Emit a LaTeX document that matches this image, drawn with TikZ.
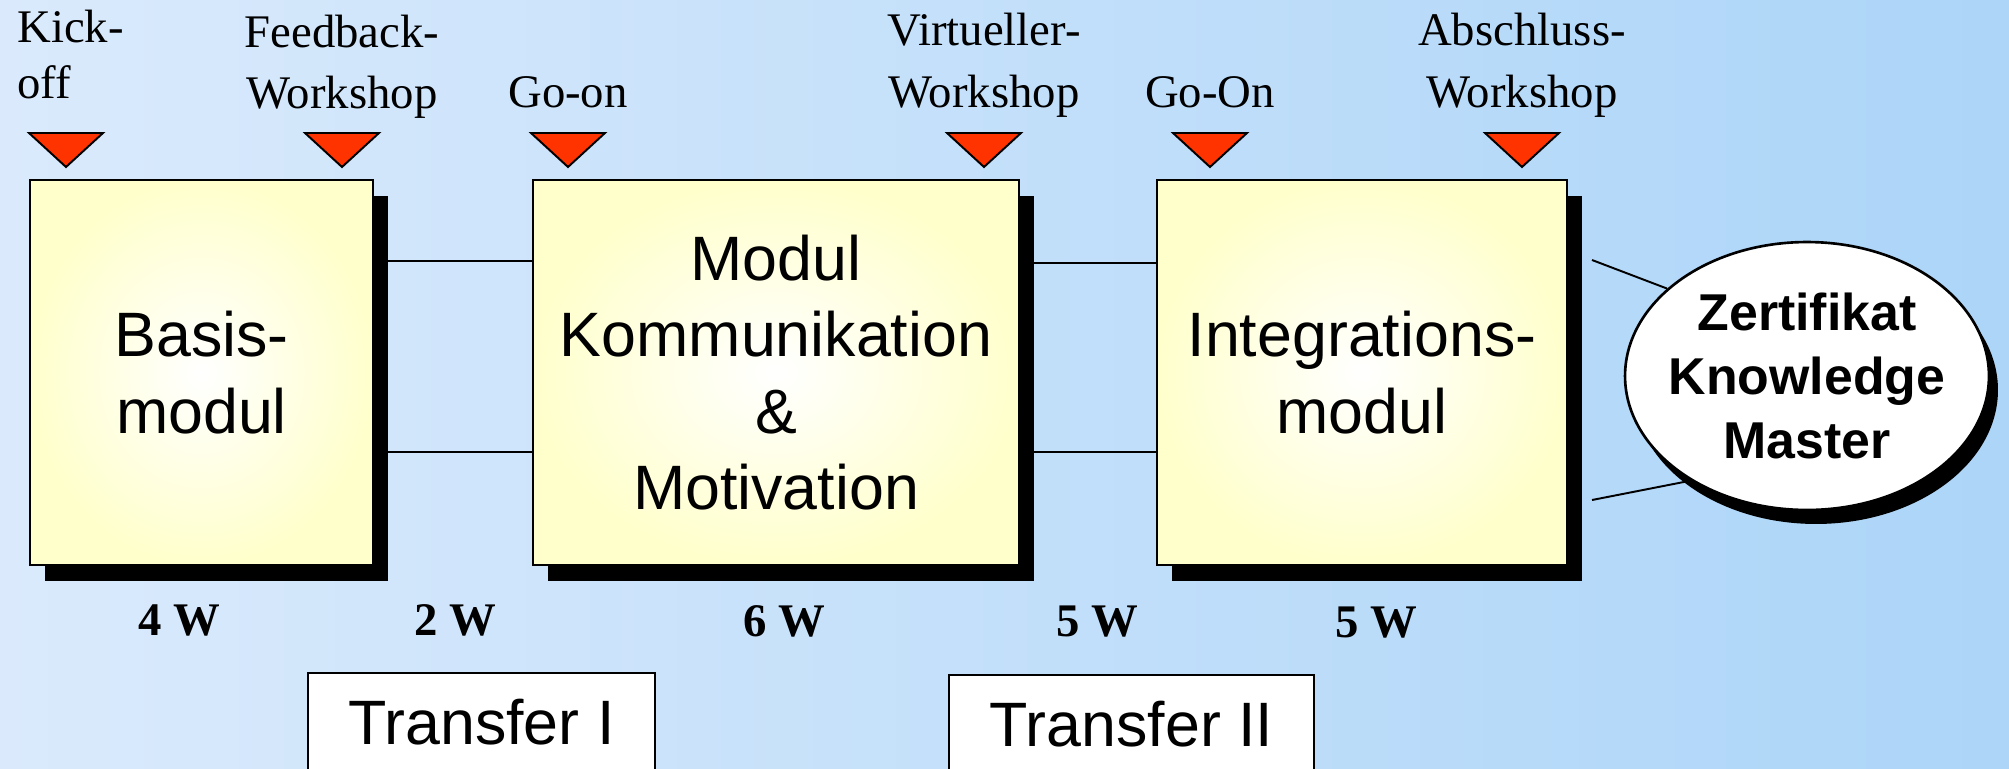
\documentclass[tikz,border=0pt]{standalone}
\usepackage{fontspec}
\setmainfont{Liberation Serif}
\newfontfamily\arialfont{Liberation Sans}
\usetikzlibrary{shapes.geometric}
\definecolor{bgL}{RGB}{218,234,252}
\definecolor{bgR}{RGB}{172,213,248}
\definecolor{boxY}{RGB}{255,255,204}
\definecolor{triR}{RGB}{255,51,0}
\tikzset{
  x=0.02cm, y=-0.02cm,
  modbox/.style={draw=black, line width=1.1pt, inner color=white, outer color=boxY,
    align=center, font=\arialfont\fontsize{35.7}{43.4}\selectfont,
    minimum height=7.7cm, inner sep=0pt},
  shbox/.style={fill=black, minimum height=7.7cm, inner sep=0pt},
  conn/.style={line width=1.1pt},
  tri/.style={fill=triR, draw=black, line width=1.1pt, line join=miter},
  evlabel/.style={inner sep=0pt, align=center},
  wk/.style={font=\bfseries\fontsize{26.6}{32}\selectfont, inner sep=0pt, anchor=base},
  trbox/.style={draw=black, fill=white, line width=1.1pt,
    font=\arialfont\fontsize{35.7}{43}\selectfont, anchor=north,
    minimum height=1.98cm, inner sep=0pt},
  certell/.style={ellipse, draw=black, fill=white, line width=1.5pt,
    minimum width=7.28cm, minimum height=5.36cm, inner sep=0pt, align=center,
    font=\arialfont\bfseries\fontsize{29.5}{36.6}\selectfont},
  certsh/.style={ellipse, fill=black, minimum width=7.28cm, minimum height=5.36cm, inner sep=0pt},
}
\newcommand{\zl}[1]{\makebox[0pt]{#1}}
\begin{document}
\begin{tikzpicture}
\clip (0,0) rectangle (2009,768);
\shade[left color=bgL, right color=bgR] (0,0) rectangle (2009,768);

% shadows
\node[shbox, minimum width=6.86cm] (bsh) at (216.5,388.5) {};
\node[shbox, minimum width=9.72cm] (msh) at (791,388.5) {};
\node[shbox, minimum width=8.2cm] (ish) at (1377,388.5) {};
\node[certsh] (esh) at (1816,390) {};

% helper levels
\coordinate (ya) at (0,261);
\coordinate (yb) at (0,452);
\coordinate (yc) at (0,263);
\coordinate (yd) at (0,452);
\coordinate (c1) at (1592,260);
\coordinate (c2) at (1592,500);

% boxes
\node[modbox, minimum width=6.86cm] (basis) at (201.5,372.5) {Basis-\\modul};
\node[modbox, minimum width=9.72cm] (modul) at (776,372.5) {Modul\\Kommunikation\\\&\\Motivation};
\node[modbox, minimum width=8.2cm] (integ) at (1362,372.5) {Integrations-\\modul};
\node[certell] (cert) at (1807,376) {\zl{Zertifikat}\\\zl{Knowledge}\\\zl{Master}};

% connectors
\draw[conn] (bsh.east |- ya) -- (modul.west |- ya);
\draw[conn] (bsh.east |- yb) -- (modul.west |- yb);
\draw[conn] (msh.east |- yc) -- (integ.west |- yc);
\draw[conn] (msh.east |- yd) -- (integ.west |- yd);
\draw[conn] (c1) -- (cert.148);
\draw[conn] (c2) -- (cert.222);

% milestone triangles
\foreach \ax in {66,342,568,984,1210,1522}
  \draw[tri] (\ax-37,133) -- (\ax+37,133) -- (\ax,167) -- cycle;

% milestone labels
\node[evlabel, align=left, anchor=north west, font=\fontsize{26.6}{31.7}\selectfont] (lkick) at (17,10) {Kick-\\off};
\node[evlabel, anchor=north, font=\fontsize{26.6}{34.8}\selectfont] (lfeed) at (342,15) {Feedback-\\Workshop};
\node[evlabel, anchor=base, font=\fontsize{26.6}{32}\selectfont] (lgo1) at (568,107) {Go-on};
\node[evlabel, anchor=north, font=\fontsize{26.6}{35.4}\selectfont] (lvirt) at (984,13) {Virtueller-\\Workshop};
\node[evlabel, anchor=base, font=\fontsize{26.6}{32}\selectfont] (lgo2) at (1210,107) {Go-On};
\node[evlabel, anchor=north, font=\fontsize{26.6}{35.4}\selectfont] (labs) at (1522,13) {Abschluss-\\Workshop};

% durations
\node[wk] (w1) at (179,635) {4 W};
\node[wk] (w2) at (455,635) {2 W};
\node[wk] (w3) at (784,636) {6 W};
\node[wk] (w4) at (1097,636) {5 W};
\node[wk] (w5) at (1376,637) {5 W};

% transfer boxes
\node[trbox, minimum width=6.94cm] (tr1) at (481.5,672) {Transfer I};
\node[trbox, minimum width=7.3cm] (tr2) at (1131.5,674) {Transfer II};
\end{tikzpicture}
\end{document}
